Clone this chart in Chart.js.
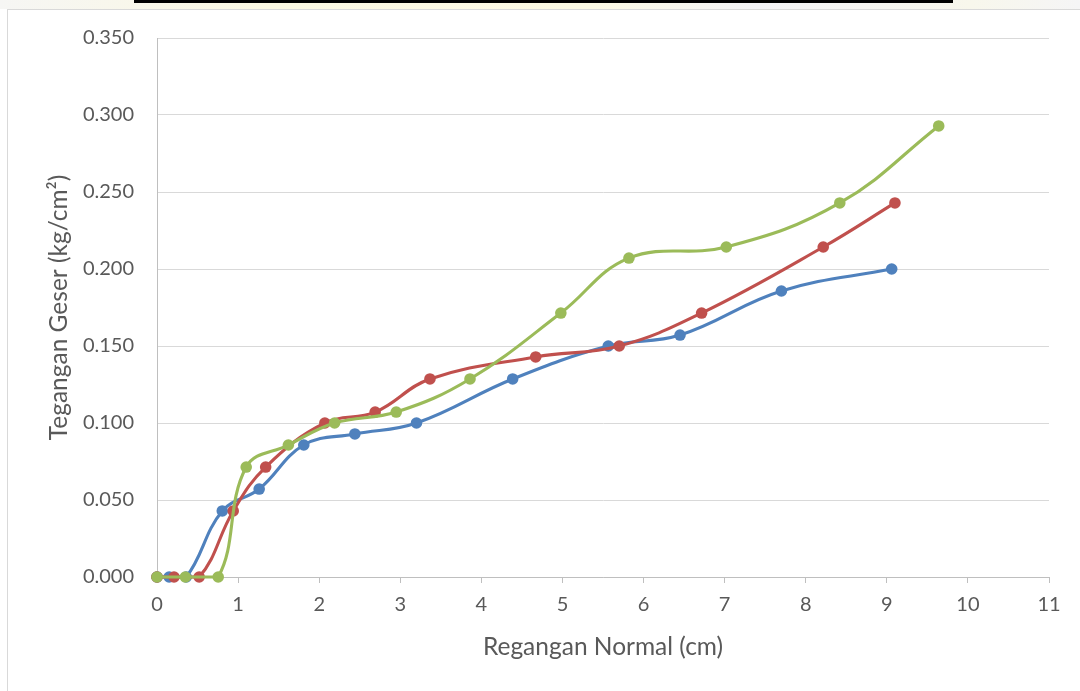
<!DOCTYPE html>
<html>
<head>
<meta charset="utf-8">
<script src="https://cdn.jsdelivr.net/npm/chart.js@4"></script>
<style>
  html, body { margin: 0; padding: 0; background: #ffffff; }
  #wrap { position: relative; width: 1080px; height: 691px; overflow: hidden; background: #ffffff; }
  #strip { position: absolute; left: 0; top: 0; width: 1080px; height: 9px;
           background: linear-gradient(90deg, #f6f6f4 0%, #fbf8e2 25%, #fcf9e4 55%, #f3f3f6 70%, #f8f7ec 90%, #f5f5f6 100%); }
  #bar { position: absolute; left: 134px; top: 0; width: 819px; height: 3px; background: #000; }
  #frame { position: absolute; left: 7px; top: 9px; width: 1200px; height: 800px; border: 1px solid #d9d9d9; background: #fff; }
  #cv { position: absolute; left: 0; top: 0; }
</style>
</head>
<body>
<div id="wrap">
  <div id="strip"></div>
  <div id="bar"></div>
  <div id="frame"></div>
  <canvas id="cv" width="1080" height="691"></canvas>
</div>
<script>
// Data
const xTickLabels = ['0','1','2','3','4','5','6','7','8','9','10','11'];
const yTickLabels = ['0.000','0.050','0.100','0.150','0.200','0.250','0.300','0.350'];

const blueX  = [0, 0.15, 0.36, 0.805, 1.26, 1.81, 2.44, 3.20, 4.386, 5.565, 6.45, 7.70, 9.06];
const blueY  = [0, 0, 0, 0.0429, 0.0571, 0.0857, 0.0929, 0.1000, 0.1286, 0.1500, 0.1571, 0.1857, 0.2000];

const redX   = [0, 0.21, 0.52, 0.94, 1.34, 2.07, 2.69, 3.366, 4.67, 5.70, 6.716, 8.216, 9.10];
const redY   = [0, 0, 0, 0.0429, 0.0714, 0.1000, 0.1071, 0.1286, 0.1429, 0.1500, 0.1714, 0.2143, 0.2429];

const greenX = [0, 0.35, 0.755, 1.10, 1.62, 2.19, 2.95, 3.86, 4.98, 5.82, 7.02, 8.42, 9.64];
const greenY = [0, 0, 0, 0.0714, 0.0857, 0.1000, 0.1071, 0.1286, 0.1714, 0.2071, 0.2143, 0.2429, 0.2929];

const xTitle = 'Regangan Normal (cm)';
const yTitle = 'Tegangan Geser (kg/cm²)';

function pts(xs, ys) { return xs.map((x, i) => ({ x: x, y: ys[i] })); }

const textColor = '#595959';
const fontFamily = 'Lato, "Open Sans", sans-serif';

function series(label, xs, ys, color, order) {
  return {
    label: label,
    data: pts(xs, ys),
    borderColor: color,
    backgroundColor: color,
    pointBackgroundColor: color,
    pointBorderColor: color,
    borderWidth: 3.1,
    pointRadius: 5.8,
    pointBorderWidth: 0,
    tension: 0.4,
    fill: false,
    clip: false,
    order: order
  };
}

new Chart(document.getElementById('cv'), {
  type: 'line',
  data: {
    datasets: [
      series('Series1', blueX, blueY, '#4F81BD', 2),
      series('Series2', redX, redY, '#C0504D', 1),
      series('Series3', greenX, greenY, '#9BBB59', 0)
    ]
  },
  options: {
    responsive: false,
    animation: false,
    devicePixelRatio: 1,
    layout: { padding: { left: 0, top: 38, right: 31, bottom: 0 } },
    plugins: { legend: { display: false }, tooltip: { enabled: false } },
    scales: {
      x: {
        type: 'linear',
        min: 0, max: 11,
        ticks: {
          stepSize: 1,
          color: textColor,
          font: { family: fontFamily, size: 20 },
          padding: 10,
          maxRotation: 0,
          callback: (v, i) => xTickLabels[i]
        },
        grid: { display: true, drawOnChartArea: false, drawTicks: true, tickLength: 6, tickColor: '#bfbfbf', color: '#bfbfbf' },
        border: { display: true, color: '#bfbfbf', width: 1 },
        title: { display: true, text: xTitle, color: textColor, font: { family: fontFamily, size: 24.5 }, padding: { top: 0, bottom: 29 } },
        afterFit: s => { s.height = 114; }
      },
      y: {
        type: 'linear',
        min: 0, max: 0.35,
        ticks: {
          stepSize: 0.05,
          color: textColor,
          font: { family: fontFamily, size: 20 },
          padding: 23,
          callback: (v, i) => yTickLabels[i]
        },
        grid: { color: '#d9d9d9', lineWidth: 1, drawTicks: false },
        border: { display: true, color: '#bfbfbf', width: 1 },
        title: { display: true, text: yTitle, color: textColor, font: { family: fontFamily, size: 24.5 }, padding: { top: 44, bottom: 0 } },
        afterFit: s => { s.width = 157; }
      }
    }
  }
});
</script>
</body>
</html>
